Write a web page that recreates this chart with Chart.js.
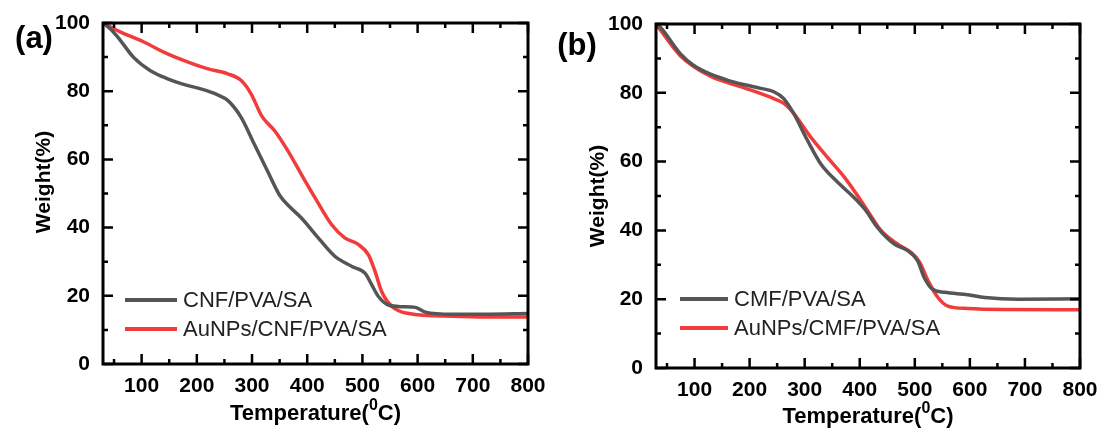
<!DOCTYPE html>
<html>
<head>
<meta charset="utf-8">
<script src="https://cdn.jsdelivr.net/npm/chart.js@4.4.1/dist/chart.umd.min.js"></script>
<style>
  html, body { margin: 0; padding: 0; background: #fff; }
  #wrap { position: relative; width: 1099px; height: 432px; }
  canvas { position: absolute; top: 0; }
  #chartA { left: 0; }
  #chartB { left: 550px; }
</style>
</head>
<body>
<div id="wrap">
  <canvas id="chartA" width="550" height="432"></canvas>
  <canvas id="chartB" width="549" height="432"></canvas>
</div>
<script>
// tick labels
const xMajor = [100, 200, 300, 400, 500, 600, 700, 800];
const xMinor = [50, 150, 250, 350, 450, 550, 650, 750];
const yMajor = [0, 20, 40, 60, 80, 100];
const yMinor = [10, 30, 50, 70, 90];

// (a) CNF/PVA/SA
const tempCNF = [30, 45, 61, 85, 116, 146, 176, 207, 237, 256, 280, 304, 328, 350, 370, 389, 420, 450, 481, 505, 517, 529, 547, 572, 596, 614, 663, 723, 800];
const wtCNF   = [100, 98, 95, 90, 86, 83.7, 82, 80.7, 79, 77.3, 72.4, 64.5, 56.6, 49.5, 45.8, 42.9, 37, 31.6, 28.6, 26.6, 23.2, 19.8, 17.3, 16.8, 16.6, 15.2, 14.6, 14.6, 14.8];
// (a) AuNPs/CNF/PVA/SA
const tempAuCNF = [30, 61, 103, 146, 183, 219, 256, 280, 298, 318, 341, 365, 389, 414, 444, 468, 493, 511, 523, 535, 554, 584, 663, 724, 800];
const wtAuCNF   = [100, 97.4, 94.5, 91, 88.6, 86.6, 85.1, 83.2, 79.3, 72.6, 68.4, 62.5, 55.7, 48.8, 40.9, 37, 35, 32, 27.1, 21.2, 16.8, 14.8, 14.0, 13.8, 13.8];

// (b) CMF/PVA/SA
const tempCMF = [30, 37, 74, 98, 129, 159, 189, 220, 244, 262, 280, 305, 329, 360, 390, 410, 432, 463, 487, 505, 517, 532, 554, 596, 627, 688, 800];
const wtCMF   = [100, 99.2, 91.4, 88, 85.4, 83.7, 82.4, 81.3, 80.3, 78.3, 74, 66.2, 59.4, 54, 49.5, 46, 40.9, 36, 34.1, 31.2, 26.3, 22.9, 22, 21.3, 20.5, 20, 20.1];
// (b) AuNPs/CMF/PVA/SA
const tempAuCMF = [30, 74, 129, 189, 244, 262, 280, 311, 341, 372, 402, 414, 439, 469, 493, 509, 524, 542, 560, 596, 658, 800];
const wtAuCMF   = [100, 90.8, 84.8, 81.5, 78.3, 76.9, 74, 67.1, 61.3, 55.5, 48.7, 45.8, 39.9, 36, 33.6, 30.7, 25.4, 20.5, 18.0, 17.3, 17.0, 16.9];

const FONT = '"Liberation Sans", Arial, sans-serif';
const GRAY = '#555555';
const RED = '#f23b3b';

const pts = (xs, ys) => xs.map((t, i) => ({ x: t, y: ys[i] }));

// frame, inward ticks, titles, panel label and legend
const decoPlugin = {
  id: 'deco',
  afterDraw(chart, args, o) {
    const { ctx, chartArea: a, scales: { x, y } } = chart;
    ctx.save();
    ctx.strokeStyle = '#000';
    ctx.lineCap = 'butt';
    ctx.lineWidth = 2.5;
    ctx.beginPath();
    const xt = [...xMajor.map(v => [v, 10]), ...xMinor.map(v => [v, 5])];
    xt.forEach(([v, len]) => {
      const px = x.getPixelForValue(v);
      ctx.moveTo(px, a.bottom); ctx.lineTo(px, a.bottom - len);
      ctx.moveTo(px, a.top); ctx.lineTo(px, a.top + len);
    });
    const yt = [...yMajor.map(v => [v, 10]), ...yMinor.map(v => [v, 5])];
    yt.forEach(([v, len]) => {
      const py = y.getPixelForValue(v);
      ctx.moveTo(a.left, py); ctx.lineTo(a.left + len, py);
      ctx.moveTo(a.right, py); ctx.lineTo(a.right - len, py);
    });
    ctx.stroke();
    ctx.lineWidth = 3;
    ctx.strokeRect(a.left, a.top, a.right - a.left, a.bottom - a.top);

    ctx.fillStyle = '#000';
    // panel label
    ctx.font = 'bold 31px ' + FONT;
    ctx.textAlign = 'center';
    ctx.textBaseline = 'middle';
    ctx.fillText(o.label, o.labelX, o.labelY);

    // y title
    ctx.save();
    ctx.translate(o.yTitleX, o.yTitleY);
    ctx.rotate(-Math.PI / 2);
    ctx.font = 'bold 21px ' + FONT;
    ctx.fillText('Weight(%)', 0, 0);
    ctx.restore();

    // x title with superscript 0
    const big = 'bold 22px ' + FONT, small = 'bold 16px ' + FONT;
    ctx.font = big; const w1 = ctx.measureText('Temperature(').width;
    const w3 = ctx.measureText('C)').width;
    ctx.font = small; const w2 = ctx.measureText('0').width;
    let cx = (a.left + a.right) / 2 - (w1 + w2 + w3) / 2;
    ctx.textAlign = 'left';
    ctx.font = big; ctx.fillText('Temperature(', cx, o.xTitleY); cx += w1;
    ctx.font = small; ctx.fillText('0', cx, o.xTitleY - 8); cx += w2;
    ctx.font = big; ctx.fillText('C)', cx, o.xTitleY);

    // legend
    ctx.font = '22px ' + FONT;
    chart.data.datasets.forEach((ds, i) => {
      const ly = o.legY + i * o.legGap;
      ctx.strokeStyle = ds.borderColor;
      ctx.lineWidth = 4;
      ctx.beginPath();
      ctx.moveTo(o.legX, ly); ctx.lineTo(o.legX + o.legLen, ly);
      ctx.stroke();
      ctx.fillStyle = '#222';
      ctx.fillText(ds.label, o.legX + o.legLen + 6, ly + 1);
    });
    ctx.restore();
  }
};

function makeChart(id, datasets, box, deco) {
  const H = 432;
  return new Chart(document.getElementById(id), {
    type: 'line',
    data: { datasets },
    options: {
      responsive: false,
      animation: false,
      layout: { padding: { top: box.top, right: box.width - box.right, left: 0, bottom: 0 } },
      elements: { point: { radius: 0 }, line: { borderWidth: 3.5, tension: 0.4, cubicInterpolationMode: 'monotone' } },
      plugins: { legend: { display: false }, tooltip: { enabled: false }, deco },
      scales: {
        x: {
          type: 'linear', min: 30, max: 800,
          grid: { display: false, drawTicks: false },
          border: { display: false },
          ticks: { color: '#000', padding: 10, maxRotation: 0, autoSkip: false, font: { family: FONT, size: 21, weight: 'bold' } },
          afterBuildTicks: s => { s.ticks = xMajor.map(v => ({ value: v })); },
          afterFit: s => { s.height = H - box.bottom; s.paddingLeft = 0; s.paddingRight = 0; }
        },
        y: {
          min: 0, max: 100,
          grid: { display: false, drawTicks: false },
          border: { display: false },
          ticks: { color: '#000', padding: 13, font: { family: FONT, size: 21, weight: 'bold' } },
          afterBuildTicks: s => { s.ticks = yMajor.map(v => ({ value: v })); },
          afterFit: s => { s.width = box.left; s.paddingTop = 0; s.paddingBottom = 0; }
        }
      }
    },
    plugins: [decoPlugin]
  });
}

makeChart('chartA', [
  { label: 'CNF/PVA/SA', data: pts(tempCNF, wtCNF), borderColor: GRAY },
  { label: 'AuNPs/CNF/PVA/SA', data: pts(tempAuCNF, wtAuCNF), borderColor: RED }
], { left: 103, right: 528, top: 23, bottom: 364, width: 550 },
{ label: '(a)', labelX: 34, labelY: 39, yTitleX: 44, yTitleY: 182, xTitleY: 414, legX: 125, legLen: 52, legY: 300, legGap: 29 });

makeChart('chartB', [
  { label: 'CMF/PVA/SA', data: pts(tempCMF, wtCMF), borderColor: GRAY },
  { label: 'AuNPs/CMF/PVA/SA', data: pts(tempAuCMF, wtAuCMF), borderColor: RED }
], { left: 106, right: 530, top: 24, bottom: 368, width: 549 },
{ label: '(b)', labelX: 27, labelY: 46, yTitleX: 48, yTitleY: 196, xTitleY: 417, legX: 130, legLen: 48, legY: 299, legGap: 29 });
</script>
</body>
</html>
